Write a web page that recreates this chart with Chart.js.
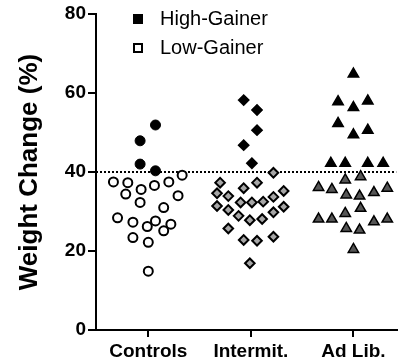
<!DOCTYPE html>
<html>
<head>
<meta charset="utf-8">
<title>Weight Change</title>
<script src="https://cdn.jsdelivr.net/npm/chart.js@4.4.1/dist/chart.umd.min.js"></script>
<style>
  body { margin: 0; background: #fff; }
  #wrap { position: relative; width: 404px; height: 360px; }
  #legend { position: absolute; left: 133px; top: 4px; font-family: "Liberation Sans", Arial, sans-serif; font-size: 20px; color: #000; }
  .leg-item { display: flex; align-items: center; height: 29px; }
  .leg-box { width: 10px; height: 10px; box-sizing: border-box; margin-right: 17px; }
  .leg-box.filled { background: #000; }
  .leg-box.open { border: 2px solid #000; background: #fff; }
</style>
</head>
<body>
<div id="wrap">
  <canvas id="weightChart" width="404" height="360"></canvas>
  <div id="legend">
    <div class="leg-item"><span class="leg-box filled"></span><span>High-Gainer</span></div>
    <div class="leg-item"><span class="leg-box open"></span><span>Low-Gainer</span></div>
  </div>
</div>
<script>
// ========================================
// DATOS
// ========================================

const categories = ['Controls', 'Intermit.', 'Ad Lib.'];
const yTicks = [0, 20, 40, 60, 80];
const threshold = 40;

// cada punto: [desplazamiento horizontal dentro del grupo, % cambio de peso]
const controlsHigh = [[0.07, 51.9], [-0.08, 47.9], [-0.08, 42.0], [0.07, 40.3]];
const controlsLow = [
  [-0.34, 37.5], [-0.20, 37.3], [0.33, 39.2], [0.20, 37.5], [0.06, 36.6],
  [-0.07, 35.6], [-0.22, 34.4], [0.29, 34.0], [-0.08, 32.3], [0.15, 31.0],
  [-0.30, 28.4], [-0.15, 27.3], [-0.01, 26.2], [0.07, 27.6], [0.22, 26.8],
  [0.15, 25.1], [-0.15, 23.4], [0.00, 22.2], [0.00, 14.9]
];

const intermitHigh = [[-0.07, 58.2], [0.06, 55.7], [0.06, 50.6], [-0.07, 46.8], [0.01, 42.2]];
const intermitLow = [
  [0.22, 39.8], [-0.30, 37.3], [0.06, 37.3], [-0.07, 35.9], [-0.33, 34.6],
  [-0.22, 33.9], [0.32, 35.2], [0.22, 33.7], [-0.10, 32.3], [0.01, 32.3],
  [0.12, 32.5], [-0.33, 31.4], [-0.22, 30.4], [0.32, 31.2], [0.22, 29.8],
  [-0.12, 28.9], [-0.01, 27.8], [0.11, 28.1], [-0.22, 25.7], [-0.07, 22.8],
  [0.06, 22.6], [0.22, 23.6], [-0.01, 16.9]
];

const adLibHigh = [
  [0.00, 64.8], [-0.15, 57.8], [0.14, 58.0], [0.00, 56.3], [-0.15, 52.3],
  [0.14, 50.6], [0.00, 49.4], [-0.22, 42.2], [-0.08, 42.2], [0.14, 42.2], [0.29, 42.2]
];
const adLibLow = [
  [0.07, 38.8], [-0.08, 38.0], [-0.34, 36.1], [-0.21, 35.6], [-0.07, 34.2],
  [0.06, 33.9], [0.20, 34.8], [0.33, 35.9], [0.07, 30.8], [-0.08, 29.5],
  [-0.34, 28.1], [-0.21, 28.1], [-0.07, 25.7], [0.06, 25.3], [0.20, 27.4],
  [0.33, 28.1], [0.00, 20.4]
];

// límites del eje x (en unidades de grupo)
const xMin = 0.49;
const xMax = 3.42;

// ========================================
// UTILIDADES
// ========================================

// Convertir puntos del grupo a {x, y}
function toPoints(groupIndex, list) {
  return list.map(p => ({ x: groupIndex + 1 + p[0], y: p[1] }));
}

function pointSet(groupIndex, list, style, fill, radius, border) {
  return {
    type: 'scatter',
    data: toPoints(groupIndex, list),
    pointStyle: style,
    pointRadius: radius,
    pointHoverRadius: radius,
    pointBackgroundColor: fill,
    pointBorderColor: '#000',
    pointBorderWidth: border,
    order: 1
  };
}

// ========================================
// GRÁFICO
// ========================================

Chart.defaults.font.family = '"Liberation Sans", Arial, sans-serif';
Chart.defaults.color = '#000';

function renderWeightChart() {
  const ctx = document.getElementById('weightChart');

  new Chart(ctx, {
    type: 'scatter',
    data: {
      datasets: [
        // línea de corte punteada
        {
          type: 'line',
          data: [{ x: xMin, y: threshold }, { x: xMax, y: threshold }],
          borderColor: '#000',
          borderWidth: 2,
          borderDash: [2, 2],
          pointRadius: 0,
          fill: false,
          order: 10
        },
        pointSet(0, controlsHigh, 'circle', '#000', 5, 1),
        pointSet(0, controlsLow, 'circle', '#fff', 4.5, 2),
        pointSet(1, intermitHigh, 'rectRot', '#000', 4.8, 2),
        pointSet(1, intermitLow, 'rectRot', '#a6a6a6', 4.8, 2),
        pointSet(2, adLibHigh, 'triangle', '#000', 6, 1.5),
        pointSet(2, adLibLow, 'triangle', '#555555', 6, 1.5)
      ]
    },
    options: {
      responsive: false,
      animation: false,
      layout: { padding: { top: 14, right: 1, left: 0, bottom: 0 } },
      plugins: {
        legend: { display: false },
        tooltip: { enabled: false }
      },
      scales: {
        x: {
          type: 'linear',
          min: xMin,
          max: xMax,
          afterBuildTicks: scale => {
            scale.ticks = categories.map((c, i) => ({ value: i + 1 }));
          },
          afterFit: scale => { scale.height = 30; },
          border: { color: '#000', width: 2 },
          grid: { drawOnChartArea: false, color: '#000', lineWidth: 2, tickLength: 7 },
          ticks: {
            autoSkip: false,
            maxRotation: 0,
            padding: 3,
            font: { size: 19, weight: 'bold' },
            callback: value => categories[Math.round(value) - 1]
          }
        },
        y: {
          min: 0,
          max: 80,
          afterBuildTicks: scale => {
            scale.ticks = yTicks.map(v => ({ value: v }));
          },
          afterFit: scale => { scale.width = 96; },
          border: { color: '#000', width: 2 },
          grid: { drawOnChartArea: false, color: '#000', lineWidth: 2, tickLength: 8 },
          ticks: {
            padding: 2,
            font: { size: 19, weight: 'bold' }
          },
          title: {
            display: true,
            text: 'Weight Change (%)',
            font: { size: 26, weight: 'bold' },
            padding: { top: 14, bottom: 0 }
          }
        }
      }
    }
  });
}

renderWeightChart();
</script>
</body>
</html>
